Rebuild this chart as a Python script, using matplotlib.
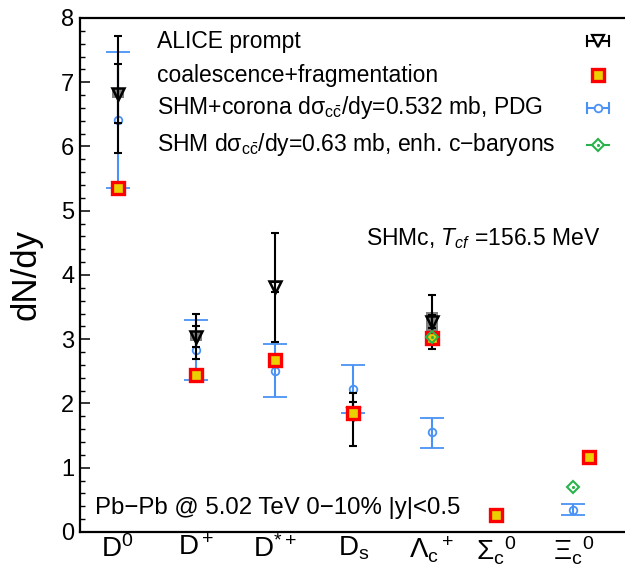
import numpy as np
import matplotlib.pyplot as plt
from matplotlib.lines import Line2D

plt.rcParams['font.family'] = ['Liberation Sans', 'DejaVu Sans']
plt.rcParams['mathtext.fontset'] = 'custom'
plt.rcParams['mathtext.rm'] = 'Liberation Sans'
plt.rcParams['mathtext.it'] = 'Liberation Sans:italic'
plt.rcParams['mathtext.bf'] = 'Liberation Sans:bold'

# particle species on the x axis
species = [r"$\mathrm{D^0}$", r"$\mathrm{D^+}$", r"$\mathrm{D^{*+}}$", r"$\mathrm{D_s}$",
           r"$\Lambda_\mathrm{c}{}^+$", r"$\Sigma_\mathrm{c}{}^0$", r"$\Xi_\mathrm{c}{}^0$"]

# ALICE prompt yields: value, total error (low, high), stat error (low, high), syst box half height
alice_idx = [0, 1, 2, 3, 4]
alice_val = [6.82, 3.04, 3.81, 1.84, 3.27]
alice_tot_lo = [0.92, 0.35, 0.85, 0.50, 0.42]
alice_tot_hi = [0.90, 0.35, 0.85, 0.33, 0.42]
alice_stat_lo = [0.46, 0.16, 0.08, 0.10, 0.10]
alice_stat_hi = [0.46, 0.16, 0.08, 0.19, 0.10]
alice_syst = [0.07, 0.07, 0.0, 0.0, 0.16]

# coalescence + fragmentation
coal_idx = [0, 1, 2, 3, 4, 5, 6]
coal_val = [5.35, 2.44, 2.67, 1.85, 3.02, 0.27, 1.17]

# SHM + corona, PDG spectrum
shm_idx = [0, 1, 2, 3, 4, 6]
shm_val = [6.42, 2.83, 2.50, 2.22, 1.55, 0.34]
shm_lo = [5.35, 2.36, 2.10, 1.85, 1.31, 0.27]
shm_hi = [7.47, 3.30, 2.93, 2.60, 1.77, 0.43]

# SHM with enhanced charm baryons
enh_idx = [4, 6]
enh_val = [3.03, 0.70]

blue = '#4a92f5'
green = '#2bb34b'
yellow = '#ead000'

fig = plt.figure(figsize=(6.25, 5.73), dpi=100)
ax = fig.add_axes([0.128, 0.0716, 0.872, 0.897])

# the two baryon states sit a bit closer together
xpos = np.array([1, 2, 3, 4, 5, 5.82, 6.8])
coal_x = xpos[coal_idx] + np.array([0, 0, 0, 0, 0, 0, 0.2])
shm_x = xpos[shm_idx]
enh_x = xpos[enh_idx]
alice_x = xpos[alice_idx]

# SHM+corona
shm_val = np.array(shm_val)
ax.errorbar(shm_x, shm_val, yerr=[shm_val - np.array(shm_lo), np.array(shm_hi) - shm_val],
            fmt='o', ms=5.5, mfc='none', mec=blue, mew=1.3, ecolor=blue, elinewidth=1.5,
            capsize=8.5, capthick=1.5, zorder=2)

# ALICE: syst boxes, total and stat errors, markers
ax.bar(alice_x, 2 * np.array(alice_syst), bottom=np.array(alice_val) - np.array(alice_syst),
       width=0.15, color='#808080', zorder=3)
ax.errorbar(alice_x, alice_val, yerr=[alice_tot_lo, alice_tot_hi], fmt='none',
            ecolor='black', elinewidth=1.5, capsize=3, capthick=1.5, zorder=3)
ax.errorbar(alice_x, alice_val, yerr=[alice_stat_lo, alice_stat_hi], fmt='none',
            ecolor='black', elinewidth=1.5, capsize=3, capthick=1.5, zorder=3)
ax.plot(alice_x, alice_val, 'v', ms=9, mfc='none', mec='black', mew=1.8, zorder=3.5)

# coalescence+fragmentation
ax.plot(coal_x, coal_val, 's', ms=8, mfc=yellow, mec='red', mew=2.4, zorder=4)

# SHM enhanced baryons
ax.plot(enh_x, enh_val, 'D', ms=6.5, mfc='none', mec=green, mew=1.5, zorder=5)
ax.plot(enh_x, enh_val, '.', ms=2.5, color=green, zorder=5)

ax.set_xlim(0.52, 7.46)
ax.set_ylim(0, 8)
ax.set_xticks(xpos)
ax.set_xticklabels(species, fontsize=20)
ax.tick_params(axis='x', length=0, pad=2)
ax.set_yticks(np.arange(0, 9, 1))
ax.set_yticks(np.arange(0, 8.01, 0.2), minor=True)
ax.tick_params(axis='y', which='major', direction='in', length=7, width=1.1, labelsize=17, pad=4)
ax.tick_params(axis='y', which='minor', direction='in', length=3.5, width=1.0)
for s in ['left', 'bottom', 'top']:
    ax.spines[s].set_linewidth(1.6)
ax.spines['right'].set_visible(False)

ax.set_ylabel('dN/dy', fontsize=25)
ax.yaxis.set_label_coords(-0.068, 0.5)

# legend drawn row by row: text on the left, handle on the right
rows_y = [0.955, 0.889, 0.825, 0.753]
labels = ['ALICE prompt', 'coalescence+fragmentation',
          r'SHM+corona d$\mathrm{\sigma_{c\bar{c}}}$/dy=0.532 mb, PDG',
          r'SHM d$\mathrm{\sigma_{c\bar{c}}}$/dy=0.63 mb, enh. c−baryons']
hx = 0.950
hw = 0.02
for y, lab in zip(rows_y, labels):
    ax.text(0.141, y, lab, transform=ax.transAxes, fontsize=16.5, va='center', ha='left')


def leg_bar(y, color, caps):
    ax.add_line(Line2D([hx - hw, hx + hw], [y, y], transform=ax.transAxes, color=color,
                       lw=1.5, clip_on=False))
    if caps:
        for xc in (hx - hw, hx + hw):
            ax.add_line(Line2D([xc, xc], [y - 0.01, y + 0.01], transform=ax.transAxes,
                               color=color, lw=1.5, clip_on=False))


leg_bar(rows_y[0], 'black', True)
ax.plot([hx], [rows_y[0]], 'v', ms=8.5, mfc='white', mec='black', mew=1.6, transform=ax.transAxes)
ax.plot([hx], [rows_y[1]], 's', ms=8, mfc=yellow, mec='red', mew=2.4, transform=ax.transAxes)
leg_bar(rows_y[2], blue, True)
ax.plot([hx], [rows_y[2]], 'o', ms=5.5, mfc='white', mec=blue, mew=1.3, transform=ax.transAxes)
leg_bar(rows_y[3], green, False)
ax.plot([hx], [rows_y[3]], 'D', ms=6.5, mfc='white', mec=green, mew=1.5, transform=ax.transAxes)
ax.plot([hx], [rows_y[3]], '.', ms=2.5, color=green, transform=ax.transAxes)

ax.text(0.954, 0.570, r'SHMc, $T_{cf}$ =156.5 MeV', transform=ax.transAxes,
        fontsize=16.5, ha='right', va='center')
ax.text(0.0275, 0.047, 'Pb−Pb @ 5.02 TeV 0−10% |y|<0.5', transform=ax.transAxes,
        fontsize=17.3, ha='left', va='center')

fig.savefig('out.png', dpi=100)
